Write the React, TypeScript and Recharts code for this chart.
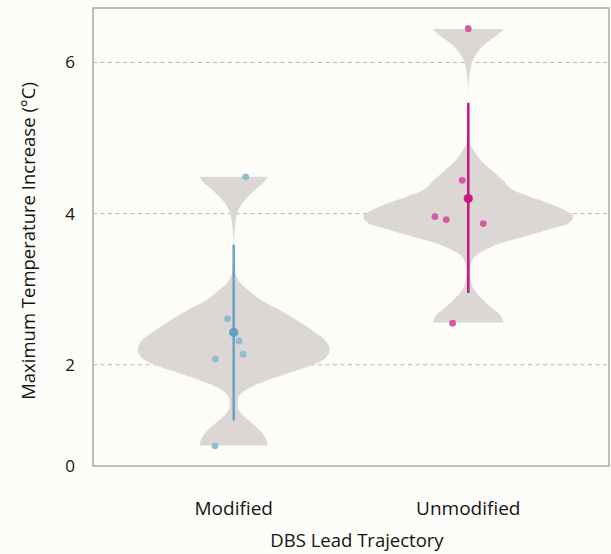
import { Area, CartesianGrid, ComposedChart, ErrorBar, ReferenceArea, Scatter, XAxis, YAxis } from 'recharts'

const categories = ['Modified', 'Unmodified']
const categoryPos = [1, 2]
const yTicks = [0.66, 2, 4, 6]
const gridValues = [2, 4, 6]

// violin outlines: temperature v and half width (x-axis units)
const modifiedViolin = [
  { v: 0.93, hw: 0.145 }, { v: 1.01, hw: 0.139 }, { v: 1.12, hw: 0.115 }, { v: 1.23, hw: 0.077 },
  { v: 1.34, hw: 0.035 }, { v: 1.45, hw: 0.017 }, { v: 1.54, hw: 0.018 }, { v: 1.63, hw: 0.035 },
  { v: 1.71, hw: 0.077 }, { v: 1.8, hw: 0.149 }, { v: 1.89, hw: 0.235 }, { v: 1.98, hw: 0.32 },
  { v: 2.09, hw: 0.392 }, { v: 2.2, hw: 0.409 }, { v: 2.33, hw: 0.388 }, { v: 2.46, hw: 0.333 },
  { v: 2.6, hw: 0.264 }, { v: 2.73, hw: 0.192 }, { v: 2.86, hw: 0.114 }, { v: 2.95, hw: 0.077 },
  { v: 3.08, hw: 0.029 }, { v: 3.15, hw: 0.014 }, { v: 3.26, hw: 0.004 }, { v: 3.5, hw: 0 },
  { v: 3.7, hw: 0.002 }, { v: 3.83, hw: 0.006 }, { v: 3.97, hw: 0.012 }, { v: 4.05, hw: 0.02 },
  { v: 4.14, hw: 0.037 }, { v: 4.23, hw: 0.063 }, { v: 4.32, hw: 0.093 }, { v: 4.41, hw: 0.128 },
  { v: 4.486, hw: 0.147 },
]
const unmodifiedViolin = [
  { v: 2.56, hw: 0.151 }, { v: 2.66, hw: 0.135 }, { v: 2.77, hw: 0.093 }, { v: 2.9, hw: 0.05 },
  { v: 3.04, hw: 0.017 }, { v: 3.215, hw: 0.009 }, { v: 3.35, hw: 0.013 }, { v: 3.435, hw: 0.029 },
  { v: 3.52, hw: 0.072 }, { v: 3.61, hw: 0.141 }, { v: 3.7, hw: 0.243 }, { v: 3.79, hw: 0.341 },
  { v: 3.87, hw: 0.426 }, { v: 3.96, hw: 0.448 }, { v: 4.04, hw: 0.414 }, { v: 4.128, hw: 0.35 },
  { v: 4.217, hw: 0.269 }, { v: 4.305, hw: 0.196 }, { v: 4.437, hw: 0.149 }, { v: 4.57, hw: 0.1 },
  { v: 4.7, hw: 0.055 }, { v: 4.8, hw: 0.03 }, { v: 4.88, hw: 0.015 }, { v: 4.96, hw: 0.004 },
  { v: 5.1, hw: 0.002 }, { v: 5.4, hw: 0 }, { v: 5.665, hw: 0.001 }, { v: 5.8, hw: 0.004 },
  { v: 5.93, hw: 0.01 }, { v: 6.02, hw: 0.018 }, { v: 6.106, hw: 0.033 }, { v: 6.195, hw: 0.055 },
  { v: 6.28, hw: 0.087 }, { v: 6.371, hw: 0.127 }, { v: 6.441, hw: 0.151 },
]

const modifiedPoints = [
  { x: 1.051, v: 4.486 }, { x: 0.974, v: 2.609 }, { x: 1.023, v: 2.314 },
  { x: 1.04, v: 2.137 }, { x: 0.922, v: 2.075 }, { x: 0.92, v: 0.927 },
]
const unmodifiedPoints = [
  { x: 2.0, v: 6.446 }, { x: 1.974, v: 4.44 }, { x: 1.858, v: 3.96 },
  { x: 1.906, v: 3.92 }, { x: 2.064, v: 3.867 }, { x: 1.933, v: 2.55 },
]

// mean with +/- SD
const modifiedMean = [{ x: 1, v: 2.428, err: [1.166, 1.161] }]
const unmodifiedMean = [{ x: 2, v: 4.199, err: [1.249, 1.267] }]

const FONT = '"Open Sans", sans-serif'
const TEXT = '#151515'
const VIOLIN = '#dcd7d4'

const dot = (r: number, fill: string) => (p: any) => <circle cx={p.cx} cy={p.cy} r={r} fill={fill} />

export default function App() {
  return (
    <div style={{ width: 611, height: 554, background: '#fcfcf8', fontFamily: FONT }}>
      <style>{'body{margin:0;background:#fcfcf8}'}</style>
      <ComposedChart
        width={611}
        height={554}
        layout="vertical"
        margin={{ top: 8, right: 2, bottom: 0, left: 0 }}
      >
        <CartesianGrid vertical={false} horizontalValues={gridValues} stroke="#bcb9b5" strokeDasharray="4 3.5" />
        <XAxis
          type="number"
          domain={[0.4, 2.6]}
          ticks={categoryPos}
          tickFormatter={(v) => categories[categoryPos.indexOf(v)] ?? ''}
          allowDataOverflow
          axisLine={false}
          tickLine={false}
          tickSize={0}
          tickMargin={36}
          height={88}
          tick={{ fontSize: 19, fill: TEXT, fontFamily: FONT }}
          label={(props: any) => {
            const vb = props.viewBox
            return (
              <text x={vb.x + vb.width / 2 + 6} y={547} textAnchor="middle" fontSize={18.5} fill={TEXT} fontFamily={FONT}>
                DBS Lead Trajectory
              </text>
            )
          }}
        />
        <YAxis
          type="number"
          dataKey="v"
          reversed
          domain={[0.66, 6.72]}
          ticks={yTicks}
          interval={0}
          tickFormatter={(v) => (v < 1 ? '0' : String(v))}
          allowDataOverflow
          axisLine={false}
          tickLine={false}
          tickSize={0}
          tickMargin={18}
          width={93}
          tick={{ fontSize: 17, fill: TEXT, fontFamily: FONT }}
          label={(props: any) => {
            const vb = props.viewBox
            const cx = 27
            const cy = vb.y + vb.height / 2 + 4
            return (
              <text
                x={cx}
                y={cy}
                transform={`rotate(-90 ${cx} ${cy})`}
                textAnchor="middle"
                dominantBaseline="central"
                fontSize={18.5}
                fill={TEXT}
                fontFamily={FONT}
              >
                Maximum Temperature Increase (°C)
              </text>
            )
          }}
        />
        <Area
          data={modifiedViolin}
          dataKey={(d: any) => [categoryPos[0] - d.hw, categoryPos[0] + d.hw]}
          type="monotone"
          stroke="none"
          fill={VIOLIN}
          fillOpacity={1}
          isAnimationActive={false}
          activeDot={false}
        />
        <Area
          data={unmodifiedViolin}
          dataKey={(d: any) => [categoryPos[1] - d.hw, categoryPos[1] + d.hw]}
          type="monotone"
          stroke="none"
          fill={VIOLIN}
          fillOpacity={1}
          isAnimationActive={false}
          activeDot={false}
        />
        <Scatter data={modifiedPoints} dataKey="x" shape={dot(3.4, '#8dbdd1')} isAnimationActive={false} />
        <Scatter data={unmodifiedPoints} dataKey="x" shape={dot(3.4, '#d75a9f')} isAnimationActive={false} />
        <Scatter data={modifiedMean} dataKey="x" shape={dot(4.6, '#62a2bc')} isAnimationActive={false}>
          <ErrorBar dataKey="err" direction="y" width={0} stroke="#6aa6bf" strokeWidth={2.6} />
        </Scatter>
        <Scatter data={unmodifiedMean} dataKey="x" shape={dot(4.6, '#c81a80')} isAnimationActive={false}>
          <ErrorBar dataKey="err" direction="y" width={0} stroke="#c81a80" strokeWidth={2.6} />
        </Scatter>
        <ReferenceArea x1={0.4} x2={2.6} y1={0.66} y2={6.72} fill="none" stroke="#a9a9a5" strokeWidth={1.5} />
      </ComposedChart>
    </div>
  )
}
